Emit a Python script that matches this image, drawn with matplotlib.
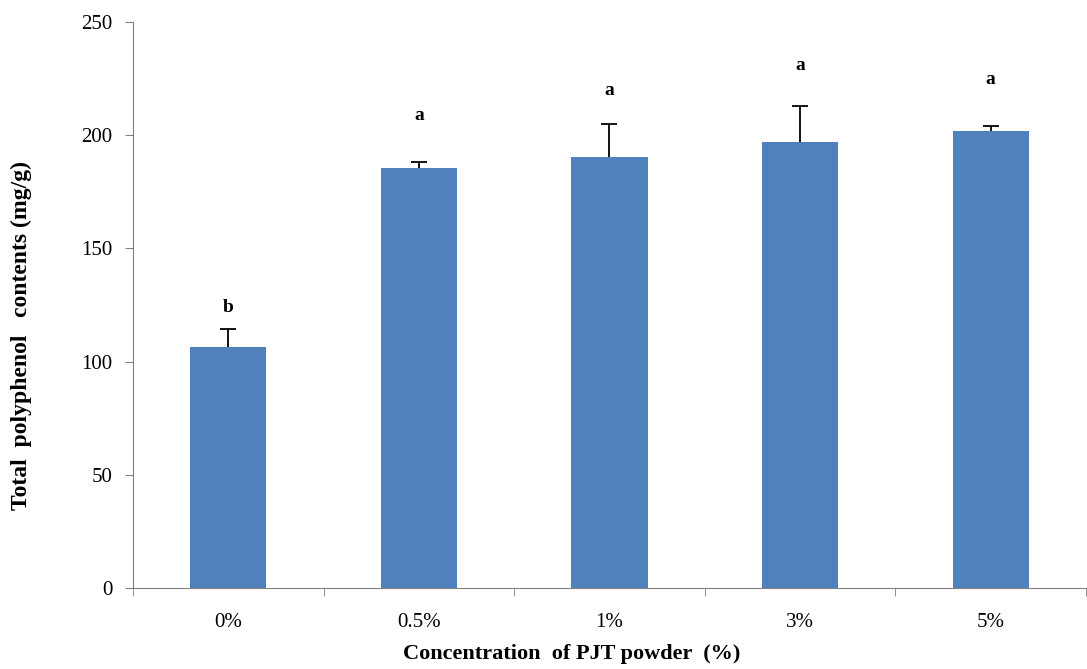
import matplotlib
matplotlib.use("Agg")
import matplotlib.pyplot as plt
import numpy as np

# Data
categories = ["0%", "0.5%", "1%", "3%", "5%"]
means = [106.5, 185.5, 190.5, 197.0, 202.0]
errors = [8.0, 2.5, 14.5, 16.0, 2.0]
letters = ["b", "a", "a", "a", "a"]
letter_y = [120, 205, 216, 227, 221]

plt.rcParams["font.family"] = ["Liberation Serif", "DejaVu Serif"]

fig = plt.figure(figsize=(10.87, 6.69), dpi=100)
ax = fig.add_axes([0.1224, 0.121, 0.8766, 0.846])

x = np.arange(len(categories))
ax.bar(x, means, width=0.4, color="#4F81BD", zorder=2)
# only the upper half of the error bars is shown
eb = ax.errorbar(x, means, yerr=[np.zeros(len(errors)), errors], fmt="none",
                 ecolor="black", elinewidth=1.3, capsize=6, capthick=1.3, zorder=3)
eb[1][0].set_visible(False)  # hide the lower caps

# significance letters
for xi, lab, ly in zip(x, letters, letter_y):
    ax.text(xi, ly, lab, ha="center", va="bottom", fontsize=14,
            fontweight="bold")

ax.set_xlim(-0.5, len(categories) - 0.5)
ax.set_ylim(0, 250)
ax.set_yticks(np.arange(0, 251, 50))
ax.set_xticks(x)
ax.set_xticklabels(categories, fontsize=15)
ax.tick_params(axis="x", which="major", length=0, pad=18)
ax.set_xticks(np.arange(-0.5, len(categories), 1), minor=True)
ax.tick_params(axis="x", which="minor", length=6, color="#808080", direction="out")
ax.tick_params(axis="y", labelsize=15, length=6, color="#808080", direction="out", pad=9)

for side in ["top", "right"]:
    ax.spines[side].set_visible(False)
ax.spines["left"].set_color("#808080")
ax.spines["bottom"].set_color("#808080")

ax.set_xlabel("Concentration  of PJT powder  (%)", fontsize=16, fontweight="bold")
ax.set_ylabel("Total  polyphenol   contents (mg/g)", fontsize=17, fontweight="bold")
ax.xaxis.set_label_coords(0.46, -0.098)
ax.yaxis.set_label_coords(-0.106, 0.447)

fig.savefig("out.png", dpi=100)
